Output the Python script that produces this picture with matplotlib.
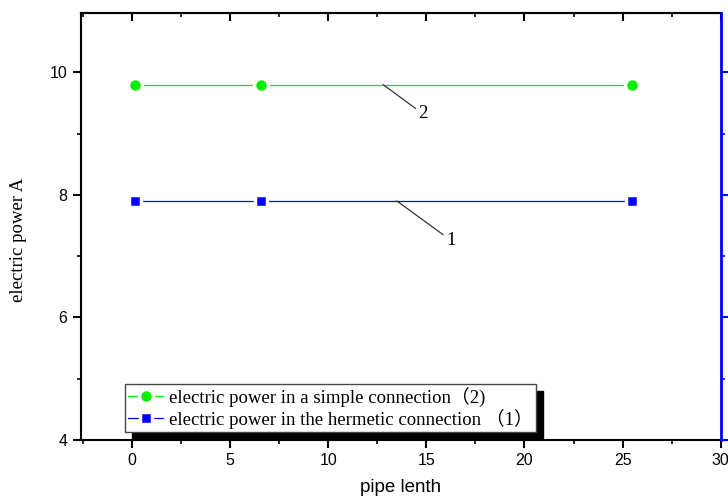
import numpy as np
import matplotlib
matplotlib.use('Agg')
from matplotlib import pyplot as plt
from matplotlib.ticker import MultipleLocator

# data
pipeLength = [0.15, 6.6, 25.5]
powerSimple = [9.8, 9.8, 9.8]
powerHermetic = [7.9, 7.9, 7.9]
labelSimple = 'electric power in a simple connection\uff082)'
labelHermetic = 'electric power in the hermetic connection \uff081\uff09'
xTicks = [0, 5, 10, 15, 20, 25, 30]
yTicks = [4, 6, 8, 10]

serif = ['Liberation Serif', 'Noto Sans CJK SC', 'DejaVu Serif']
sans = 'Liberation Sans'

fig = plt.figure(figsize=(7.28, 4.97), dpi=100)
ax = fig.add_axes([0.111, 0.115, 0.879, 0.859])

# markers get a white rim so the line stops short of them
ax.plot(pipeLength, powerSimple, color='#00ee00', lw=0.9, marker='o', ms=10,
        mec='white', mew=2.5, label=labelSimple)
ax.plot(pipeLength, powerHermetic, color='#0000ff', lw=0.9, marker='s', ms=9,
        mec='white', mew=2.5, label=labelHermetic)

ax.set_xlim(-2.6, 30)
ax.set_ylim(4, 10.97)
ax.set_xticks(xTicks)
ax.set_yticks(yTicks)
ax.xaxis.set_minor_locator(MultipleLocator(2.5))
ax.yaxis.set_minor_locator(MultipleLocator(1))
ax.tick_params(which='major', direction='out', length=6, width=1.5,
               labelsize=11.5, right=False, top=False)
ax.tick_params(which='minor', direction='out', length=3, width=1.2,
               right=False, top=False)
for lab in ax.get_xticklabels() + ax.get_yticklabels():
    lab.set_fontfamily(sans)
for s in ['left', 'bottom', 'top']:
    ax.spines[s].set_linewidth(1.5)
ax.spines['right'].set_visible(False)

# top axis, ticks pointing inward
top = ax.secondary_xaxis('top')
top.set_xticks(xTicks)
top.xaxis.set_minor_locator(MultipleLocator(2.5))
top.tick_params(which='major', direction='in', length=6, width=1.5, labeltop=False)
top.tick_params(which='minor', direction='in', length=3, width=1.2)
top.spines['top'].set_linewidth(1.5)

# blue right axis
ax2 = ax.twinx()
ax2.set_ylim(ax.get_ylim())
ax2.set_yticks(yTicks)
ax2.yaxis.set_minor_locator(MultipleLocator(1))
ax2.tick_params(which='major', colors='#0000ff', length=6, width=1.5, labelright=False)
ax2.tick_params(which='minor', colors='#0000ff', length=3, width=1.2)
ax2.spines['right'].set_color('#0000ff')
ax2.spines['right'].set_linewidth(2)
for s in ['left', 'bottom', 'top']:
    ax2.spines[s].set_visible(False)

ax.set_xlabel('pipe lenth', fontfamily=sans, fontsize=13.5, va='center')
ax.xaxis.set_label_coords(0.5, -0.112)
ax.set_ylabel('electric power A', fontfamily=serif, fontsize=13.5, va='center')
ax.yaxis.set_label_coords(-0.098, 0.468)

# curve numbers with leader lines
ax.annotate('2', xy=(12.8, powerSimple[1]), xytext=(14.6, 9.32),
            fontfamily=serif, fontsize=13.5, va='center',
            arrowprops=dict(arrowstyle='-', color='#333333', lw=0.9, shrinkA=0, shrinkB=0))
ax.annotate('1', xy=(13.5, powerHermetic[1]), xytext=(16.0, 7.26),
            fontfamily=serif, fontsize=13.5, va='center',
            arrowprops=dict(arrowstyle='-', color='#333333', lw=0.9, shrinkA=0, shrinkB=0))

leg = ax.legend(loc='lower left', bbox_to_anchor=(0.069, 0.019), borderaxespad=0,
                fancybox=False, framealpha=1, edgecolor='#444444',
                shadow={'color': 'black', 'alpha': 1, 'ox': 5, 'oy': -5},
                prop={'family': serif, 'size': 13.5}, handlelength=1.9,
                handletextpad=0.3, borderpad=0.15, labelspacing=0.1)
leg.get_frame().set_linewidth(1.0)

fig.savefig('out.png', dpi=100)
